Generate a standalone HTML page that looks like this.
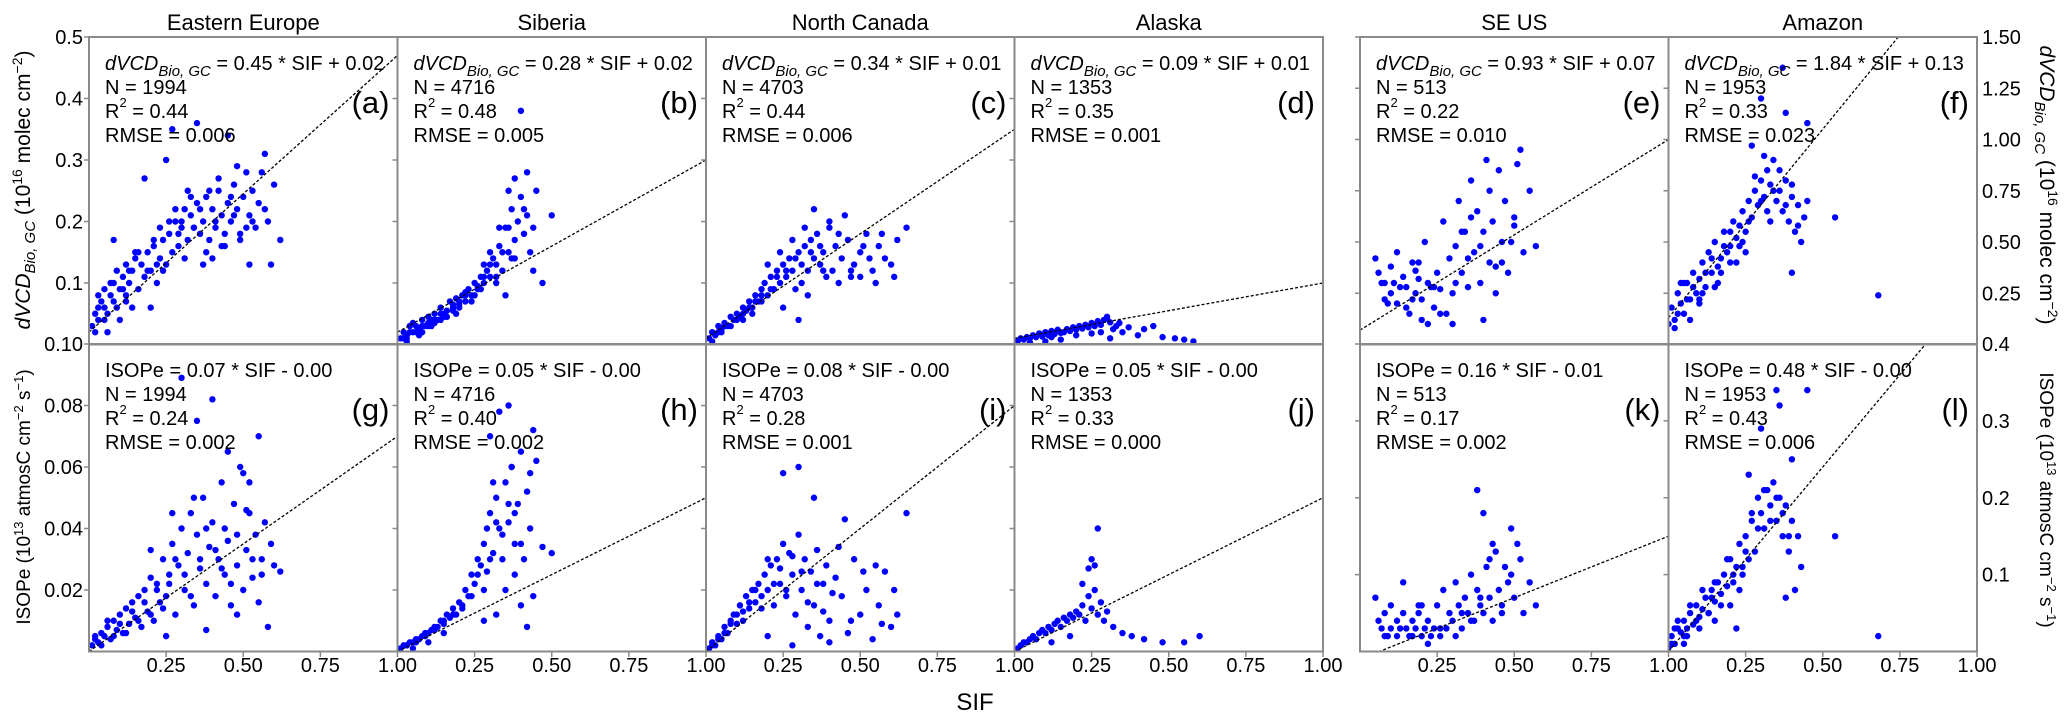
<!DOCTYPE html>
<html><head><meta charset="utf-8"><style>
html,body{margin:0;padding:0;background:#fff;}
svg{display:block;font-family:"Liberation Sans",Arial,sans-serif;}
</style></head><body>
<svg id="fig" width="2067" height="727" viewBox="0 0 2067 727" xmlns="http://www.w3.org/2000/svg">
<g id="marks"></g>
<g id="frames"></g>
<g id="labels"></g>
<text x="975" y="710" font-size="24" text-anchor="middle">SIF</text>
<text transform="translate(30,190) rotate(-90)" font-size="21" text-anchor="middle"><tspan font-style="italic">dVCD</tspan><tspan font-style="italic" font-size="15" dy="5">Bio, GC</tspan><tspan dy="-5"> (10</tspan><tspan font-size="14" dy="-8">16</tspan><tspan dy="8"> molec cm</tspan><tspan font-size="14" dy="-8">−2</tspan><tspan dy="8">)</tspan></text>
<text transform="translate(30,497) rotate(-90)" font-size="19" text-anchor="middle">ISOPe (10<tspan font-size="13" dy="-7">13</tspan><tspan dy="7"> atmosC cm</tspan><tspan font-size="13" dy="-7">−2</tspan><tspan dy="7"> s</tspan><tspan font-size="13" dy="-7">−1</tspan><tspan dy="7">)</tspan></text>
<text transform="translate(2040,185) rotate(90)" font-size="21" text-anchor="middle"><tspan font-style="italic">dVCD</tspan><tspan font-style="italic" font-size="15" dy="5">Bio, GC</tspan><tspan dy="-5"> (10</tspan><tspan font-size="14" dy="-8">16</tspan><tspan dy="8"> molec cm</tspan><tspan font-size="14" dy="-8">−2</tspan><tspan dy="8">)</tspan></text>
<text transform="translate(2040,500) rotate(90)" font-size="19" text-anchor="middle">ISOPe (10<tspan font-size="13" dy="-7">13</tspan><tspan dy="7"> atmosC cm</tspan><tspan font-size="13" dy="-7">−2</tspan><tspan dy="7"> s</tspan><tspan font-size="13" dy="-7">−1</tspan><tspan dy="7">)</tspan></text>
</svg>
<script>
// ---- data ----
const regions = ["Eastern Europe","Siberia","North Canada","Alaska","SE US","Amazon"];
const topSlopes = [0.45,0.28,0.34,0.09,0.93,1.84];
const topIntercepts = [0.02,0.02,0.01,0.01,0.07,0.13];
const botSlopes = [0.07,0.05,0.08,0.05,0.16,0.48];
const botIntercepts = [0.00,0.00,0.00,0.00,-0.01,0.00];
const topEq = ["0.45 * SIF + 0.02","0.28 * SIF + 0.02","0.34 * SIF + 0.01","0.09 * SIF + 0.01","0.93 * SIF + 0.07","1.84 * SIF + 0.13"];
const botEq = ["0.07 * SIF - 0.00","0.05 * SIF - 0.00","0.08 * SIF - 0.00","0.05 * SIF - 0.00","0.16 * SIF - 0.01","0.48 * SIF - 0.00"];
const counts = ["1994","4716","4703","1353","513","1953"];
const topR2 = ["0.44","0.48","0.44","0.35","0.22","0.33"];
const botR2 = ["0.24","0.40","0.28","0.33","0.17","0.43"];
const topRmse = ["0.006","0.005","0.006","0.001","0.010","0.023"];
const botRmse = ["0.002","0.002","0.001","0.000","0.002","0.006"];
const topLetters = ["(a)","(b)","(c)","(d)","(e)","(f)"];
const botLetters = ["(g)","(h)","(i)","(j)","(k)","(l)"];
const xTicks = [0.25,0.5,0.75,1.0];
const xTickLabels = ["0.25","0.50","0.75","1.00"];
const leftTopTicks = [0.1,0.2,0.3,0.4,0.5];
const leftTopLabels = ["0.1","0.2","0.3","0.4","0.5"];
const leftBotTicks = [0.02,0.04,0.06,0.08,0.10];
const leftBotLabels = ["0.02","0.04","0.06","0.08","0.10"];
const rightTopTicks = [0.25,0.5,0.75,1.0,1.25,1.5];
const rightTopLabels = ["0.25","0.50","0.75","1.00","1.25","1.50"];
const rightBotTicks = [0.1,0.2,0.3,0.4];
const rightBotLabels = ["0.1","0.2","0.3","0.4"];
const topYMax = [0.5,0.5,0.5,0.5,1.5,1.5];
const botYMax = [0.1,0.1,0.1,0.1,0.4,0.4];

const aX=[0.01,0.02,0.03,0.04,0.05,0.05,0.06,0.07,0.08,0.08,0.09,0.10,0.11,0.12,0.12,0.13,0.14,0.15,0.16,0.17,0.18,0.19,0.20,0.21,0.22,0.23,0.24,0.25,0.26,0.27,0.28,0.29,0.30,0.31,0.32,0.33,0.34,0.35,0.36,0.37,0.38,0.39,0.40,0.41,0.42,0.43,0.44,0.45,0.46,0.47,0.48,0.49,0.50,0.51,0.52,0.53,0.55,0.56,0.58,0.60,0.62,0.08,0.18,0.27,0.35,0.45,0.25,0.30,0.40,0.48,0.52,0.20,0.15,0.10,0.03,0.06,0.14,0.22,0.33,0.44,0.54,0.37,0.28,0.42,0.57,
 0.03,0.05,0.07,0.09,0.11,0.13,0.16,0.19,0.21,0.24,0.26,0.29,0.31,0.34,0.36,0.39,0.41,0.43,0.46,0.49,0.51,0.53,0.57,0.59,0.02,0.12,0.23,0.32,0.38,0.47];
const aY=[0.03,0.05,0.04,0.07,0.06,0.09,0.05,0.08,0.10,0.07,0.12,0.09,0.11,0.08,0.13,0.10,0.12,0.14,0.09,0.13,0.11,0.15,0.12,0.16,0.10,0.14,0.17,0.13,0.18,0.15,0.20,0.16,0.19,0.22,0.17,0.21,0.19,0.23,0.18,0.20,0.24,0.17,0.22,0.19,0.25,0.21,0.18,0.23,0.20,0.26,0.22,0.17,0.24,0.19,0.21,0.25,0.23,0.28,0.20,0.26,0.17,0.17,0.27,0.35,0.36,0.34,0.30,0.20,0.14,0.29,0.13,0.06,0.15,0.04,0.08,0.02,0.06,0.13,0.24,0.16,0.19,0.13,0.22,0.27,0.31,
 0.06,0.04,0.10,0.06,0.09,0.12,0.15,0.12,0.17,0.12,0.20,0.18,0.14,0.19,0.22,0.25,0.20,0.16,0.24,0.18,0.28,0.20,0.22,0.13,0.02,0.07,0.19,0.25,0.15,0.21];
const bX=[0.01,0.02,0.03,0.04,0.05,0.06,0.07,0.08,0.09,0.10,0.11,0.12,0.13,0.14,0.15,0.16,0.17,0.18,0.19,0.20,0.21,0.22,0.23,0.24,0.25,0.26,0.27,0.28,0.29,0.30,0.31,0.32,0.33,0.34,0.35,0.36,0.37,0.38,0.39,0.40,0.41,0.42,0.43,0.44,0.45,0.47,0.50,0.30,0.33,0.36,0.38,0.40,0.42,0.35,0.28,0.05,0.10,0.15,0.20,0.25,0.08,0.12,0.18,0.22,0.03,0.14,0.27,0.32,0.37,
 0.02,0.04,0.06,0.08,0.10,0.12,0.14,0.16,0.18,0.20,0.22,0.24,0.26,0.28,0.30,0.32,0.34,0.36,0.38,0.41,0.44,0.03,0.07,0.11,0.19];
const bY=[0.01,0.02,0.015,0.03,0.02,0.03,0.025,0.04,0.03,0.045,0.04,0.05,0.04,0.06,0.05,0.055,0.07,0.06,0.075,0.065,0.08,0.07,0.09,0.08,0.10,0.09,0.11,0.10,0.12,0.11,0.14,0.13,0.16,0.12,0.19,0.15,0.22,0.17,0.20,0.24,0.18,0.21,0.15,0.12,0.25,0.10,0.21,0.15,0.19,0.25,0.27,0.38,0.28,0.08,0.13,0.035,0.03,0.045,0.06,0.08,0.02,0.035,0.055,0.085,0.01,0.04,0.09,0.11,0.14,
 0.01,0.02,0.02,0.03,0.035,0.04,0.05,0.045,0.065,0.07,0.08,0.07,0.095,0.11,0.13,0.10,0.15,0.19,0.14,0.22,0.19,0.005,0.015,0.03,0.05];
const cX=[0.01,0.02,0.03,0.04,0.05,0.06,0.07,0.08,0.09,0.10,0.11,0.12,0.13,0.14,0.15,0.16,0.17,0.18,0.19,0.20,0.21,0.22,0.23,0.24,0.25,0.26,0.27,0.28,0.29,0.30,0.31,0.32,0.33,0.34,0.35,0.36,0.37,0.38,0.39,0.40,0.42,0.44,0.46,0.48,0.50,0.52,0.54,0.56,0.58,0.60,0.62,0.65,0.25,0.30,0.35,0.40,0.45,0.50,0.55,0.20,0.15,0.28,0.33,0.38,0.05,0.12,0.18,0.43,0.47,
 0.02,0.04,0.06,0.08,0.10,0.12,0.14,0.16,0.18,0.21,0.23,0.26,0.29,0.31,0.34,0.37,0.41,0.43,0.47,0.51,0.53,0.57,0.61,0.24,0.32];
const cY=[0.01,0.02,0.015,0.03,0.025,0.035,0.03,0.045,0.04,0.05,0.045,0.06,0.055,0.07,0.06,0.08,0.07,0.09,0.10,0.08,0.11,0.09,0.12,0.10,0.13,0.11,0.14,0.12,0.09,0.15,0.13,0.16,0.12,0.17,0.14,0.18,0.13,0.15,0.11,0.19,0.16,0.14,0.17,0.13,0.15,0.18,0.12,0.16,0.14,0.13,0.17,0.19,0.06,0.04,0.22,0.20,0.21,0.11,0.10,0.13,0.05,0.17,0.08,0.12,0.02,0.04,0.07,0.10,0.12,
 0.005,0.02,0.03,0.03,0.04,0.05,0.06,0.07,0.08,0.09,0.11,0.12,0.14,0.10,0.15,0.16,0.12,0.18,0.11,0.16,0.14,0.18,0.11,0.15,0.19];
const dX=[0.01,0.02,0.03,0.04,0.05,0.06,0.07,0.08,0.09,0.10,0.11,0.12,0.13,0.14,0.15,0.16,0.17,0.18,0.19,0.20,0.21,0.22,0.23,0.24,0.25,0.26,0.27,0.28,0.29,0.30,0.31,0.32,0.33,0.35,0.37,0.40,0.42,0.45,0.48,0.52,0.55,0.58,0.30,0.28,0.31,0.25,0.15,0.10,0.05,0.20,0.12,0.34];
const dY=[0.005,0.01,0.008,0.012,0.01,0.015,0.012,0.018,0.013,0.02,0.015,0.022,0.017,0.024,0.019,0.02,0.025,0.022,0.028,0.024,0.03,0.026,0.032,0.028,0.035,0.03,0.038,0.032,0.04,0.045,0.036,0.025,0.03,0.02,0.028,0.015,0.025,0.03,0.012,0.01,0.008,0.005,0.042,0.02,0.01,0.018,0.008,0.005,0.003,0.015,0.012,0.035];
const eX=[0.05,0.06,0.08,0.10,0.10,0.12,0.12,0.14,0.15,0.16,0.17,0.18,0.19,0.20,0.21,0.22,0.22,0.24,0.25,0.26,0.27,0.28,0.29,0.30,0.31,0.32,0.33,0.34,0.35,0.36,0.37,0.38,0.39,0.40,0.41,0.42,0.43,0.44,0.45,0.46,0.47,0.48,0.50,0.52,0.53,0.55,0.57,0.15,0.08,0.40,0.30,0.20,0.11,0.18,0.24,0.35,0.44,0.50,
 0.07,0.09,0.13,0.17,0.19,0.23,0.26,0.31,0.33,0.36,0.39,0.42,0.46,0.49,0.51];
const eY=[0.42,0.35,0.30,0.38,0.25,0.45,0.20,0.33,0.28,0.15,0.40,0.25,0.32,0.22,0.50,0.30,0.10,0.18,0.35,0.27,0.60,0.15,0.42,0.25,0.48,0.70,0.35,0.55,0.28,0.80,0.45,0.65,0.30,0.55,0.90,0.40,0.60,0.25,0.85,0.50,0.70,0.35,0.62,0.95,0.45,0.75,0.48,0.18,0.22,0.12,0.10,0.12,0.30,0.36,0.28,0.42,0.38,0.58,
 0.30,0.20,0.28,0.22,0.40,0.28,0.15,0.30,0.55,0.62,0.48,0.75,0.40,0.50,0.88];
const fX=[0.00,0.01,0.02,0.03,0.04,0.05,0.06,0.07,0.08,0.09,0.10,0.11,0.12,0.13,0.14,0.15,0.16,0.17,0.18,0.19,0.20,0.21,0.22,0.23,0.24,0.25,0.26,0.27,0.28,0.29,0.30,0.31,0.32,0.33,0.34,0.35,0.36,0.37,0.38,0.39,0.40,0.41,0.42,0.43,0.44,0.45,0.68,0.54,0.37,0.30,0.38,0.45,0.27,0.40,0.05,0.10,0.15,0.20,0.25,0.33,
 0.02,0.04,0.06,0.08,0.10,0.12,0.14,0.16,0.18,0.20,0.22,0.24,0.26,0.28,0.30,0.32,0.34,0.36,0.38,0.40,0.42,0.03,0.07,0.11,0.17,0.23,0.31];
const fY=[0.10,0.18,0.12,0.25,0.20,0.15,0.30,0.22,0.35,0.25,0.32,0.40,0.28,0.45,0.35,0.50,0.38,0.42,0.55,0.45,0.48,0.60,0.52,0.58,0.65,0.55,0.70,0.62,0.75,0.68,0.80,0.72,0.85,0.78,0.90,0.70,0.75,0.65,0.80,0.60,0.72,0.55,0.68,0.50,0.62,0.70,0.24,0.62,1.35,1.20,1.13,1.08,0.97,0.35,0.30,0.22,0.28,0.40,0.45,0.60,
 0.08,0.30,0.22,0.28,0.20,0.35,0.42,0.30,0.48,0.55,0.40,0.50,0.60,0.82,0.70,0.65,0.75,0.85,0.68,0.78,0.58,0.15,0.12,0.25,0.35,0.48,0.92];
const gX=[0.01,0.02,0.03,0.04,0.05,0.06,0.07,0.08,0.09,0.10,0.11,0.12,0.13,0.14,0.15,0.16,0.17,0.18,0.19,0.20,0.21,0.22,0.23,0.24,0.25,0.26,0.27,0.28,0.29,0.30,0.31,0.32,0.33,0.34,0.35,0.36,0.37,0.38,0.39,0.40,0.41,0.42,0.43,0.44,0.45,0.46,0.47,0.48,0.49,0.50,0.51,0.52,0.53,0.54,0.55,0.56,0.57,0.58,0.60,0.62,0.30,0.35,0.40,0.45,0.50,0.55,0.25,0.20,0.38,0.48,
 0.02,0.04,0.06,0.08,0.10,0.12,0.14,0.16,0.18,0.20,0.22,0.24,0.26,0.28,0.31,0.33,0.36,0.38,0.41,0.43,0.46,0.48,0.51,0.53,0.56,0.59,0.27,0.34,0.44,0.52];
const gY=[0.002,0.004,0.003,0.006,0.005,0.008,0.004,0.010,0.007,0.012,0.006,0.014,0.009,0.016,0.011,0.018,0.008,0.020,0.013,0.024,0.010,0.022,0.016,0.030,0.018,0.025,0.035,0.012,0.028,0.040,0.020,0.032,0.045,0.015,0.038,0.027,0.050,0.022,0.034,0.042,0.018,0.030,0.055,0.025,0.036,0.015,0.048,0.028,0.060,0.020,0.033,0.045,0.024,0.038,0.016,0.030,0.042,0.008,0.028,0.026,0.089,0.075,0.082,0.065,0.058,0.070,0.005,0.033,0.007,0.012,
 0.005,0.002,0.010,0.005,0.009,0.006,0.013,0.010,0.016,0.012,0.020,0.014,0.022,0.030,0.025,0.018,0.030,0.040,0.033,0.027,0.022,0.038,0.046,0.030,0.025,0.035,0.045,0.050,0.040,0.055];
const hX=[0.01,0.02,0.03,0.04,0.05,0.06,0.07,0.08,0.09,0.10,0.11,0.12,0.13,0.14,0.15,0.16,0.17,0.18,0.19,0.20,0.21,0.22,0.23,0.24,0.25,0.26,0.27,0.28,0.29,0.30,0.31,0.32,0.33,0.34,0.35,0.36,0.37,0.38,0.39,0.40,0.41,0.42,0.43,0.44,0.45,0.47,0.50,0.30,0.33,0.36,0.38,0.40,0.28,0.35,0.42,0.05,0.10,0.15,0.32,0.44,
 0.03,0.06,0.09,0.12,0.15,0.18,0.21,0.24,0.26,0.28,0.30,0.32,0.34,0.36,0.38,0.40,0.43,0.29,0.31,0.37];
const hY=[0.001,0.002,0.002,0.003,0.003,0.004,0.004,0.005,0.006,0.006,0.007,0.008,0.008,0.010,0.009,0.012,0.011,0.014,0.012,0.016,0.015,0.020,0.018,0.025,0.022,0.030,0.028,0.035,0.026,0.045,0.032,0.050,0.040,0.038,0.055,0.042,0.060,0.035,0.048,0.065,0.030,0.052,0.040,0.072,0.062,0.034,0.032,0.070,0.078,0.080,0.025,0.015,0.010,0.020,0.008,0.001,0.003,0.006,0.012,0.018,
 0.002,0.003,0.005,0.007,0.010,0.012,0.014,0.018,0.025,0.020,0.030,0.042,0.030,0.048,0.045,0.035,0.058,0.040,0.055,0.060];
const iX=[0.01,0.02,0.03,0.04,0.05,0.06,0.07,0.08,0.09,0.10,0.11,0.12,0.13,0.14,0.15,0.16,0.17,0.18,0.19,0.20,0.21,0.22,0.23,0.24,0.25,0.26,0.27,0.28,0.29,0.30,0.31,0.32,0.33,0.34,0.35,0.36,0.37,0.38,0.39,0.40,0.42,0.44,0.46,0.48,0.50,0.52,0.54,0.56,0.58,0.60,0.62,0.65,0.30,0.25,0.35,0.45,0.55,0.20,0.28,0.40,
 0.02,0.04,0.06,0.08,0.10,0.12,0.14,0.16,0.18,0.20,0.22,0.24,0.26,0.28,0.31,0.33,0.36,0.38,0.41,0.43,0.47,0.51,0.57,0.61];
const iY=[0.001,0.003,0.002,0.005,0.004,0.008,0.006,0.010,0.012,0.009,0.015,0.013,0.018,0.014,0.020,0.016,0.022,0.018,0.025,0.020,0.028,0.015,0.030,0.022,0.035,0.018,0.032,0.025,0.012,0.038,0.020,0.030,0.008,0.026,0.015,0.033,0.005,0.022,0.028,0.010,0.024,0.018,0.006,0.030,0.012,0.020,0.004,0.015,0.026,0.008,0.012,0.045,0.060,0.058,0.050,0.043,0.028,0.005,0.002,0.003,
 0.002,0.004,0.006,0.009,0.012,0.010,0.016,0.020,0.014,0.030,0.022,0.027,0.020,0.031,0.026,0.016,0.022,0.013,0.019,0.034,0.010,0.026,0.009,0.020];
const jX=[0.01,0.02,0.03,0.04,0.05,0.06,0.07,0.08,0.09,0.10,0.11,0.12,0.13,0.14,0.15,0.16,0.17,0.18,0.19,0.20,0.21,0.22,0.23,0.24,0.25,0.26,0.27,0.28,0.29,0.30,0.32,0.35,0.38,0.42,0.48,0.55,0.60,0.25,0.24,0.26,0.27,0.22,0.12,0.18];
const jY=[0.001,0.002,0.003,0.003,0.004,0.005,0.004,0.006,0.007,0.006,0.008,0.007,0.009,0.010,0.008,0.011,0.010,0.012,0.011,0.013,0.012,0.015,0.010,0.018,0.014,0.020,0.012,0.016,0.010,0.013,0.008,0.006,0.005,0.004,0.003,0.003,0.005,0.030,0.027,0.028,0.040,0.022,0.003,0.005];
const kX=[0.05,0.06,0.08,0.10,0.10,0.12,0.12,0.14,0.15,0.16,0.17,0.18,0.19,0.20,0.21,0.22,0.22,0.24,0.25,0.26,0.27,0.28,0.29,0.30,0.31,0.32,0.33,0.34,0.35,0.36,0.37,0.38,0.39,0.40,0.41,0.42,0.43,0.44,0.45,0.46,0.47,0.48,0.50,0.52,0.53,0.55,0.57,0.38,0.40,0.49,0.43,0.14,0.08,0.20,
 0.07,0.09,0.13,0.17,0.19,0.23,0.26,0.31,0.33,0.36,0.39,0.42,0.46,0.49,0.51];
const kY=[0.07,0.04,0.05,0.03,0.06,0.02,0.04,0.05,0.03,0.02,0.04,0.03,0.05,0.02,0.03,0.04,0.01,0.03,0.06,0.02,0.08,0.03,0.05,0.04,0.09,0.06,0.03,0.07,0.05,0.10,0.04,0.08,0.06,0.05,0.11,0.07,0.04,0.13,0.08,0.06,0.11,0.09,0.07,0.12,0.05,0.09,0.06,0.21,0.18,0.16,0.14,0.09,0.02,0.06,
 0.03,0.02,0.03,0.02,0.06,0.02,0.03,0.02,0.05,0.04,0.07,0.12,0.05,0.10,0.14];
const lX=[0.00,0.01,0.02,0.03,0.04,0.05,0.06,0.07,0.08,0.09,0.10,0.11,0.12,0.13,0.14,0.15,0.16,0.17,0.18,0.19,0.20,0.21,0.22,0.23,0.24,0.25,0.26,0.27,0.28,0.29,0.30,0.31,0.32,0.33,0.34,0.35,0.36,0.37,0.38,0.39,0.40,0.41,0.42,0.43,0.68,0.54,0.35,0.45,0.30,0.40,0.26,0.36,0.05,0.10,0.15,0.20,0.22,0.38,
 0.01,0.03,0.05,0.07,0.09,0.11,0.13,0.15,0.17,0.19,0.21,0.23,0.25,0.27,0.29,0.31,0.33,0.35,0.37,0.39,0.02,0.06,0.14,0.24];
const lY=[0.005,0.02,0.01,0.03,0.025,0.04,0.02,0.05,0.035,0.06,0.045,0.055,0.07,0.05,0.08,0.065,0.09,0.075,0.10,0.085,0.12,0.09,0.11,0.14,0.10,0.15,0.12,0.17,0.13,0.20,0.18,0.16,0.21,0.19,0.22,0.17,0.20,0.15,0.19,0.13,0.17,0.08,0.15,0.11,0.02,0.15,0.34,0.34,0.29,0.25,0.23,0.32,0.01,0.03,0.04,0.06,0.03,0.07,
 0.01,0.04,0.02,0.06,0.04,0.08,0.05,0.09,0.06,0.12,0.10,0.08,0.13,0.18,0.16,0.21,0.17,0.20,0.18,0.15,0.03,0.03,0.07,0.11];
const topXs=[aX,bX,cX,dX,eX,fX], topYs=[aY,bY,cY,dY,eY,fY];
const botXs=[gX,hX,iX,jX,kX,lX], botYs=[gY,hY,iY,jY,kY,lY];

// ---- layout ----
const NS="http://www.w3.org/2000/svg";
const lefts=[89,397.5,706,1014.5,1360,1668.5], W=308.5;
const rowTop=[37,344], H=307.5;
const marks=document.getElementById('marks'), frames=document.getElementById('frames'), labels=document.getElementById('labels');
function mk(tag,attrs,parent){const e=document.createElementNS(NS,tag);for(const k in attrs)e.setAttribute(k,attrs[k]);parent.appendChild(e);return e;}
function sx(p,v){return lefts[p]+v*W;}
function sy(r,ymax,v){return rowTop[r]+H-(v/ymax)*H;}

const defs=mk('defs',{},document.getElementById('fig'));
for(let r=0;r<2;r++)for(let p=0;p<6;p++){
  const cp=mk('clipPath',{id:'c'+r+p},defs);
  mk('rect',{x:lefts[p],y:rowTop[r],width:W,height:H},cp);
}

for(let r=0;r<2;r++){
  for(let p=0;p<6;p++){
    const ymax = r===0?topYMax[p]:botYMax[p];
    const xs = r===0?topXs[p]:botXs[p], ys = r===0?topYs[p]:botYs[p];
    const g=mk('g',{'clip-path':'url(#c'+r+p+')'},marks);
    
    
    const n=Math.min(xs.length,ys.length);
    for(let i=0;i<n;i++){
      const c=mk('circle',{cx:sx(p,xs[i]),cy:sy(r,ymax,ys[i]),r:3.2,fill:'#0000ff'},g);
      
      
    }
    const m = r===0?topSlopes[p]:botSlopes[p], b = r===0?topIntercepts[p]:botIntercepts[p];
    const ln=mk('line',{x1:sx(p,0),y1:sy(r,ymax,b),x2:sx(p,1),y2:sy(r,ymax,m+b),stroke:'#000','stroke-width':1.3,'stroke-dasharray':'3,2'},g);
    
    
    const fr=mk('rect',{x:lefts[p],y:rowTop[r],width:W,height:H,fill:'none',stroke:'#8a8a8a','stroke-width':2},frames);
    
    
    const tks = p<4?(r===0?leftTopTicks:leftBotTicks):(r===0?rightTopTicks:rightBotTicks);
    tks.forEach(t=>{mk('line',{x1:lefts[p]-5,x2:lefts[p],y1:sy(r,ymax,t),y2:sy(r,ymax,t),stroke:'#8a8a8a','stroke-width':1.5},frames);});
    const tx=lefts[p]+16, ty=rowTop[r]+33;
    const t1=mk('text',{x:tx,y:ty,'font-size':20},labels);
    
    
    if(r===0){
      t1.innerHTML='<tspan font-style="italic">dVCD</tspan><tspan font-style="italic" font-size="15" dy="6">Bio, GC</tspan><tspan dy="-6"> = '+topEq[p]+'</tspan>';
    } else { t1.textContent='ISOPe = '+botEq[p]; }
    const t2=mk('text',{x:tx,y:ty+24,'font-size':20},labels);
    
    
    t2.textContent='N = '+counts[p];
    const t3=mk('text',{x:tx,y:ty+48,'font-size':20},labels);
    
    
    t3.innerHTML='R<tspan font-size="13" dy="-11">2</tspan><tspan dy="11"> = '+(r===0?topR2[p]:botR2[p])+'</tspan>';
    const t4=mk('text',{x:tx,y:ty+72,'font-size':20},labels);
    
    
    t4.textContent='RMSE = '+(r===0?topRmse[p]:botRmse[p]);
    const t5=mk('text',{x:lefts[p]+W-8,y:rowTop[r]+76,'font-size':31,'text-anchor':'end'},labels);
    
    
    t5.textContent=r===0?topLetters[p]:botLetters[p];
    if(r===1){
      xTicks.forEach((t,i)=>{
        const tl=mk('text',{x:sx(p,t),y:672,'font-size':20,'text-anchor':'middle'},labels);
        
        
        tl.textContent=xTickLabels[i];
        mk('line',{x1:sx(p,t),x2:sx(p,t),y1:652,y2:657,stroke:'#8a8a8a','stroke-width':1.5},frames);
      });
    }
  }
}
regions.forEach((name,p)=>{
  const t=mk('text',{x:lefts[p]+W/2,y:30,'font-size':22,'text-anchor':'middle'},labels);
  
  
  t.textContent=name;
});
function yLabels(ticks,texts,r,ymax,x,anchor){
  ticks.forEach((t,i)=>{
    const e=mk('text',{x:x,y:sy(r,ymax,t)+7,'font-size':20,'text-anchor':anchor},labels);
    
    
    e.textContent=texts[i];
  });
}
yLabels(leftTopTicks,leftTopLabels,0,0.5,83,'end');
yLabels(leftBotTicks,leftBotLabels,1,0.1,83,'end');
yLabels(rightTopTicks,rightTopLabels,0,1.5,1982,'start');
yLabels(rightBotTicks,rightBotLabels,1,0.4,1982,'start');
</script>
</body></html>
